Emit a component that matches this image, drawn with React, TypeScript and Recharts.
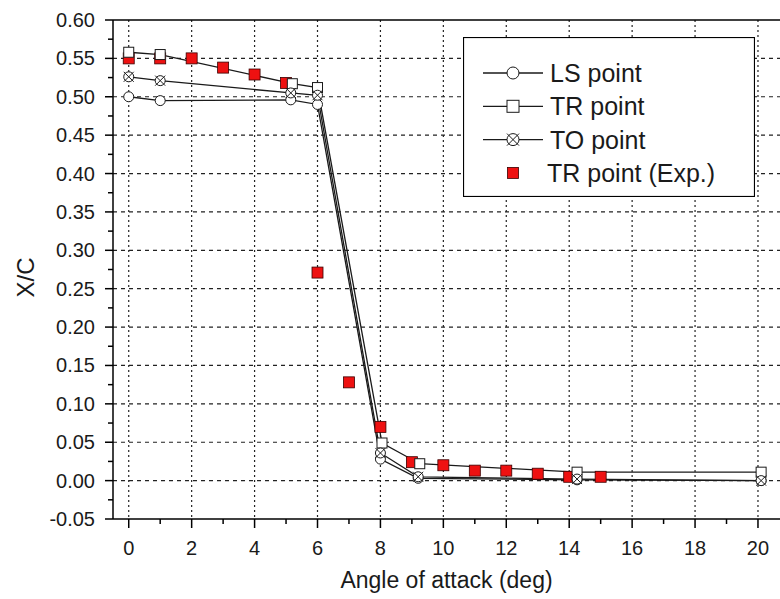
import {
  ComposedChart,
  Line,
  Scatter,
  XAxis,
  YAxis,
  CartesianGrid,
  ReferenceLine,
  Legend,
} from 'recharts';

// angle of attack (deg) and X/C for each computed series
const lsX = [0, 1, 5.15, 6, 8, 9.2, 14.25, 20.1];
const lsY = [0.5, 0.495, 0.496, 0.49, 0.028, 0.003, 0.001, 0.0];
const trX = [0, 1, 5.2, 6, 8.05, 9.25, 14.25, 20.1];
const trY = [0.558, 0.555, 0.517, 0.512, 0.049, 0.022, 0.011, 0.011];
const toX = [0, 1, 5.15, 6, 8, 9.2, 14.25, 20.1];
const toY = [0.526, 0.521, 0.505, 0.502, 0.036, 0.005, 0.002, 0.0];

// experimental transition points
const expX = [0, 1, 2, 3, 4, 5, 6, 7, 8, 9, 10, 11, 12, 13, 14, 15];
const expY = [
  0.55, 0.55, 0.55, 0.538, 0.529, 0.518, 0.271, 0.128, 0.07, 0.024, 0.02,
  0.013, 0.013, 0.009, 0.005, 0.005,
];

const xTicks = [0, 1, 2, 3, 4, 5, 6, 7, 8, 9, 10, 11, 12, 13, 14, 15, 16, 17, 18, 19, 20];
const xGrid = [0, 2, 4, 6, 8, 10, 12, 14, 16, 18, 20];
const yTicks = [
  -0.05, -0.025, 0, 0.025, 0.05, 0.075, 0.1, 0.125, 0.15, 0.175, 0.2, 0.225,
  0.25, 0.275, 0.3, 0.325, 0.35, 0.375, 0.4, 0.425, 0.45, 0.475, 0.5, 0.525,
  0.55, 0.575, 0.6,
];
const yGrid = [0, 0.05, 0.1, 0.15, 0.2, 0.25, 0.3, 0.35, 0.4, 0.45, 0.5, 0.55];

const toPoints = (xs: number[], ys: number[]) => xs.map((x, i) => ({ x, y: ys[i] }));

const FONT = '"Liberation Sans", Arial, sans-serif';
const INK = '#1a1a1a';

const CircleDot = (p: any) => (
  <circle key={`c-${p.index}`} cx={p.cx} cy={p.cy} r={5} fill='#fff' stroke={INK} strokeWidth={1} />
);
const SquareDot = (p: any) => (
  <rect key={`s-${p.index}`} x={p.cx - 5} y={p.cy - 5} width={10} height={10} fill='#fff' stroke={INK} strokeWidth={1} />
);
const CrossDot = (p: any) => (
  <g key={`x-${p.index}`}>
    <circle cx={p.cx} cy={p.cy} r={5} fill='#fff' stroke={INK} strokeWidth={1} />
    <line x1={p.cx - 5} y1={p.cy - 5} x2={p.cx + 5} y2={p.cy + 5} stroke={INK} strokeWidth={1} />
    <line x1={p.cx - 5} y1={p.cy + 5} x2={p.cx + 5} y2={p.cy - 5} stroke={INK} strokeWidth={1} />
  </g>
);
const RedSquare = (p: any) => (
  <rect x={p.cx - 5.5} y={p.cy - 5.5} width={11} height={11} fill='#ee1111' stroke='#3a0000' strokeWidth={0.8} />
);

const YTick = ({ x, y, payload }: any) => {
  const v = payload.value as number;
  const major = Math.round(v * 1000) % 50 === 0;
  return (
    <g>
      <line x1={x} x2={x - (major ? 8 : 5)} y1={y} y2={y} stroke='#000' strokeWidth={1.5} />
      {major && (
        <text x={x - 18} y={y} textAnchor='end' dominantBaseline='central' fontSize={20} fontFamily={FONT} fill={INK}>
          {v.toFixed(2)}
        </text>
      )}
    </g>
  );
};

const XTick = ({ x, y, payload }: any) => {
  const v = payload.value as number;
  const major = v % 2 === 0;
  return (
    <g>
      <line x1={x} x2={x} y1={y} y2={y + (major ? 9 : 5)} stroke='#000' strokeWidth={1.5} />
      {major && (
        <text x={x} y={y + 29} textAnchor='middle' dominantBaseline='central' fontSize={20} fontFamily={FONT} fill={INK}>
          {v}
        </text>
      )}
    </g>
  );
};

const legendRows = [
  { name: 'LS point', kind: 'circle' },
  { name: 'TR point', kind: 'square' },
  { name: 'TO point', kind: 'cross' },
  { name: 'TR point (Exp.)', kind: 'exp' },
];

const LegendBox = () => (
  <svg width={292} height={160}>
    <rect x={0.5} y={0.5} width={291} height={159} fill='#fff' stroke='#000' strokeWidth={1.2} />
    {legendRows.map((r, i) => {
      const cy = 36 + i * 33.3;
      const cx = 50;
      return (
        <g key={r.name}>
          {r.kind !== 'exp' && <line x1={20} x2={80} y1={cy} y2={cy} stroke={INK} strokeWidth={1.3} />}
          {r.kind === 'circle' && <circle cx={cx} cy={cy} r={6} fill='#fff' stroke={INK} />}
          {r.kind === 'square' && <rect x={cx - 6} y={cy - 6} width={12} height={12} fill='#fff' stroke={INK} />}
          {r.kind === 'cross' && (
            <g>
              <circle cx={cx} cy={cy} r={6} fill='#fff' stroke={INK} />
              <line x1={cx - 6} y1={cy - 6} x2={cx + 6} y2={cy + 6} stroke={INK} />
              <line x1={cx - 6} y1={cy + 6} x2={cx + 6} y2={cy - 6} stroke={INK} />
            </g>
          )}
          {r.kind === 'exp' && (
            <rect x={cx - 5.5} y={cy - 5.5} width={11} height={11} fill='#ee1111' stroke='#3a0000' strokeWidth={0.8} />
          )}
          <text x={r.kind === 'exp' ? 84 : 87} y={cy} dominantBaseline='central' fontSize={25} fontFamily={FONT} fill={INK}>
            {r.name}
          </text>
        </g>
      );
    })}
  </svg>
);

export default function App() {
  return (
    <div style={{ position: 'absolute', left: 0, top: 0, width: 780, height: 599, background: '#fff' }}>
      <ComposedChart width={780} height={599} margin={{ top: 20, right: 0, left: 0, bottom: 0 }}>
        <CartesianGrid vertical={false} horizontalValues={yGrid} stroke='#222' strokeWidth={1.2} strokeDasharray='4 4' />
        <CartesianGrid horizontal={false} verticalValues={xGrid} stroke='#222' strokeWidth={1.2} strokeDasharray='2 3' />
        <XAxis
          type='number'
          dataKey='x'
          domain={[-0.5, 20.7]}
          ticks={xTicks}
          allowDataOverflow
          height={80}
          tickSize={0}
          tickMargin={0}
          tickLine={false}
          tick={XTick}
          interval={0}
          axisLine={{ stroke: '#000', strokeWidth: 1.5 }}
          label={({ viewBox }: any) => (
            <text
              x={viewBox.x + viewBox.width / 2}
              y={viewBox.y + 61}
              textAnchor='middle'
              dominantBaseline='central'
              fontSize={23}
              fontFamily={FONT}
              fill={INK}
            >
              Angle of attack (deg)
            </text>
          )}
        />
        <YAxis
          type='number'
          dataKey='y'
          domain={[-0.05, 0.6]}
          ticks={yTicks}
          allowDataOverflow
          width={113}
          tickSize={0}
          tickMargin={0}
          tickLine={false}
          tick={YTick}
          interval={0}
          axisLine={{ stroke: '#000', strokeWidth: 1.5 }}
          label={({ viewBox }: any) => {
            const cx = viewBox.x + 25;
            const cy = viewBox.y + viewBox.height / 2 + 8;
            return (
              <text
                x={cx}
                y={cy}
                transform={`rotate(-90 ${cx} ${cy})`}
                textAnchor='middle'
                dominantBaseline='central'
                fontSize={24}
                fontFamily={FONT}
                fill={INK}
              >
                X/C
              </text>
            );
          }}
        />
        <ReferenceLine y={0.6} stroke='#000' strokeWidth={1.5} />
        <Line
          data={toPoints(lsX, lsY)}
          dataKey='y'
          name='LS point'
          type='linear'
          stroke={INK}
          strokeWidth={1.3}
          dot={CircleDot}
          isAnimationActive={false}
        />
        <Line
          data={toPoints(trX, trY)}
          dataKey='y'
          name='TR point'
          type='linear'
          stroke={INK}
          strokeWidth={1.3}
          dot={SquareDot}
          isAnimationActive={false}
        />
        <Line
          data={toPoints(toX, toY)}
          dataKey='y'
          name='TO point'
          type='linear'
          stroke={INK}
          strokeWidth={1.3}
          dot={CrossDot}
          isAnimationActive={false}
        />
        <Scatter
          data={toPoints(expX, expY)}
          dataKey='y'
          name='TR point (Exp.)'
          shape={RedSquare}
          isAnimationActive={false}
        />
        <Legend
          layout='horizontal'
          verticalAlign='middle'
          align='center'
          content={LegendBox}
          wrapperStyle={{ position: 'absolute', left: 463, top: 37, width: 292, height: 160 }}
        />
      </ComposedChart>
    </div>
  );
}
